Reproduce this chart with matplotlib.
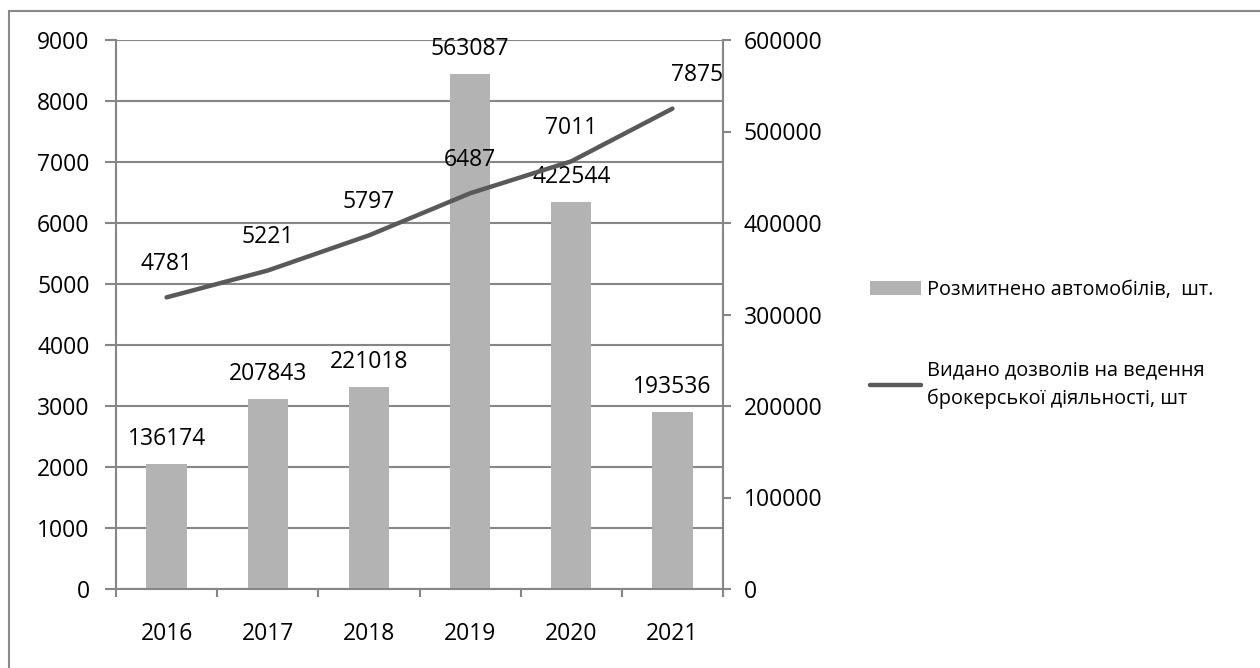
import numpy as np
import matplotlib
matplotlib.use('Agg')
import matplotlib.pyplot as plt
from matplotlib.patches import Rectangle

# data
years = ['2016', '2017', '2018', '2019', '2020', '2021']
cars_cleared = [136174, 207843, 221018, 563087, 422544, 193536]
broker_permits = [4781, 5221, 5797, 6487, 7011, 7875]

bar_label = 'Розмитнено автомобілів,  шт.'
line_label = 'Видано дозволів на ведення\nброкерської діяльності, шт'

plt.rcParams['font.family'] = ['Open Sans', 'DejaVu Sans']

axis_grey = '#868686'

fig = plt.figure(figsize=(12.6, 6.68), dpi=100)
ax = fig.add_axes([116 / 1260, 1 - 589 / 668, (723 - 116) / 1260, (589 - 40) / 668])
axb = ax.twinx()
ax.set_zorder(axb.get_zorder() + 1)
ax.patch.set_visible(False)

x = np.arange(len(years))

# bars on the right axis, line on the left axis
bars = axb.bar(x, cars_cleared, width=0.4, color='#b3b3b3', zorder=2, label=bar_label)
line, = ax.plot(x, broker_permits, color='#595959', lw=3.2,
                solid_capstyle='round', label=line_label)

ax.set_xlim(-0.5, len(years) - 0.5)
ax.set_ylim(0, 9000)
axb.set_ylim(0, 600000)
ax.set_yticks(range(0, 9001, 1000))
axb.set_yticks(range(0, 600001, 100000))

# horizontal gridlines follow the left axis, drawn behind the bars
for t in ax.get_yticks():
    axb.plot([0, 1], [t, t], transform=ax.get_yaxis_transform(),
             color=axis_grey, lw=1.5, zorder=1)

# category ticks between bars, labels at bar centres
ax.set_xticks(np.arange(-0.5, len(years), 1))
ax.set_xticklabels([])
ax.set_xticks(x, minor=True)
ax.set_xticklabels(years, minor=True)
ax.tick_params(axis='x', which='major', direction='out', length=6, width=1.5, color=axis_grey)
ax.tick_params(axis='x', which='minor', length=0, pad=24, labelsize=16.5)
ax.tick_params(axis='y', direction='out', length=8, width=1.5, color=axis_grey,
               pad=11, labelsize=16.5)
axb.tick_params(axis='y', direction='out', length=6, width=1.5, color=axis_grey,
                pad=9, labelsize=16.5)

for s in ['left', 'right', 'bottom']:
    ax.spines[s].set_color(axis_grey)
    ax.spines[s].set_linewidth(1.5)
ax.spines['top'].set_visible(False)
for s in axb.spines.values():
    s.set_visible(False)

# value labels
for xi, v in zip(x, cars_cleared):
    axb.annotate(str(v), (xi, v), xytext=(0, 18), textcoords='offset points',
                 ha='center', va='center', fontsize=16.5)
for i, (xi, v) in enumerate(zip(x, broker_permits)):
    dx = 18 if i == len(years) - 1 else 0
    ax.annotate(str(v), (xi, v), xytext=(dx, 24), textcoords='offset points',
                ha='center', va='center', fontsize=16.5)

leg = fig.legend(handles=[bars, line], loc='upper left',
                 bbox_to_anchor=(852 / 1260, 1 - 262 / 668), frameon=False,
                 fontsize=14.3, handlelength=2.55, handletextpad=0.35, labelspacing=3.05)
for t in leg.get_texts():
    t.set_linespacing(1.5)

# outer chart border (cut off at right and bottom in the original)
fig.patches.append(Rectangle((9 / 1260, -0.1), 1.2, 1.1 - 11 / 668,
                             transform=fig.transFigure, fill=False,
                             edgecolor='#8a8a8a', lw=1.5))

fig.savefig('out.png', dpi=100)
